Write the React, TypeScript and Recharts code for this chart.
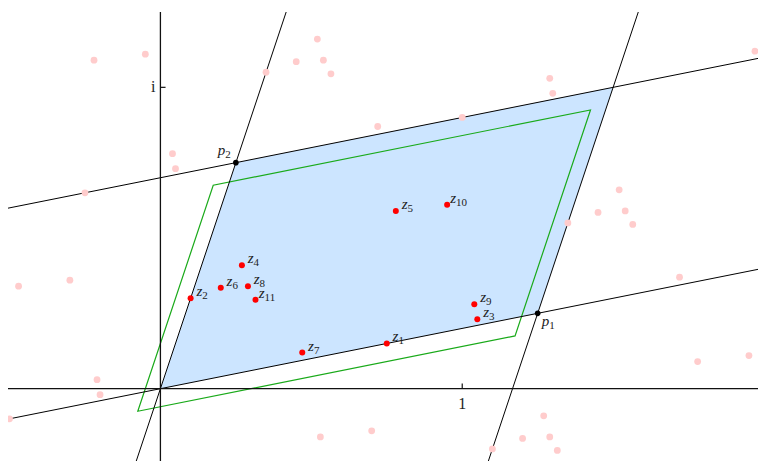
import React from 'react';
import { ScatterChart, Scatter, XAxis, YAxis } from 'recharts';

// Periods of the lattice
const periodNames = ['1', '2'];
const periodRe = [1.25, 0.25];
const periodIm = [0.25, 0.75];

// Points inside the fundamental parallelogram
const zNames = ['1', '2', '3', '4', '5', '6', '7', '8', '9', '10', '11'];
const zRe = [0.75, 0.1, 1.05, 0.27, 0.78, 0.2, 0.47, 0.29, 1.04, 0.95, 0.315];
const zIm = [0.15, 0.3, 0.23, 0.41, 0.59, 0.335, 0.12, 0.34, 0.28, 0.61, 0.295];

// Translated copies (pink)
const pinkRe = [
  1.35, 1.52, 1.45, 1.72, 1.54, 1.565,
  -0.5, -0.2, -0.47, -0.21, -0.3,
  1.0, 0.35, 1.3, 0.52, 0.45, 0.72, 0.54, 1.29, 0.565,
  0.53, 0.7,
  1.97,
  1.1, 1.27, 1.78, 1.2, 1.29, 1.95, 1.315,
  -0.25, 0.05, -0.22, 0.04, -0.05,
];
const pinkIm = [
  0.55, 0.66, 0.585, 0.37, 0.59, 0.545,
  -0.1, -0.02, 0.34, 0.03, 0.36,
  0.9, 1.05, 0.98, 1.16, 1.085, 0.87, 1.09, 1.03, 1.045,
  -0.16, -0.14,
  1.12,
  -0.2, -0.09, 0.09, -0.165, -0.16, 0.11, -0.205,
  0.65, 0.73, 1.09, 0.78, 1.11,
];

// Fundamental parallelogram 0, p1, p1+p2, p2
const cellRe = [0, 1.25, 1.5, 0.25];
const cellIm = [0, 0.25, 1.0, 0.75];

// Shifted parallelogram (green)
const shiftRe = [-0.075, 1.175, 1.425, 0.175];
const shiftIm = [-0.075, 0.175, 0.925, 0.675];

// Lattice lines (two end points each, extending past the view)
const latticeLines = [
  [[-1.5, -0.3], [3, 0.6]],
  [[-1.5, 0.4], [3, 1.3]],
  [[-0.2, -0.6], [0.6, 1.8]],
  [[1.0, -0.5], [1.6, 1.3]],
];

// Axes and ticks
const axisLines = [
  [[-1, 0], [3, 0]],
  [[0, -1], [0, 2]],
];
const tickMarks = [
  [[1, 0], [1, 0.017]],
  [[0, 1], [0.017, 1]],
];
const tickLabels = ['1', 'i'];
const tickRe = [1, 0];
const tickIm = [0, 1];

const X_DOMAIN: [number, number] = [-0.505, 1.98];
const Y_DOMAIN: [number, number] = [-0.24, 1.25];

const FONT = '"Liberation Serif", "DejaVu Serif", serif';

const zData = zNames.map((n, i) => ({ x: zRe[i], y: zIm[i], name: n }));
const pData = periodNames.map((n, i) => ({ x: periodRe[i], y: periodIm[i], name: n }));
const pinkData = pinkRe.map((x, i) => ({ x, y: pinkIm[i] }));
const cellData = cellRe.map((x, i) => ({ x, y: cellIm[i] }));
const shiftData = shiftRe.map((x, i) => ({ x, y: shiftIm[i] }));
const tickLabelData = tickLabels.map((t, i) => ({ x: tickRe[i], y: tickIm[i], name: t }));
const toPts = (seg: number[][]) => seg.map(([x, y]) => ({ x, y }));

const Empty = () => <g />;

const pathFrom = (pts: any[], close: boolean) =>
  pts.map((p: any, i: number) => `${i ? 'L' : 'M'}${p.x},${p.y}`).join(' ') + (close ? ' Z' : '');

const polyLine = (fill: string, stroke: string, width: number, close: boolean) => (props: any) => (
  <path
    d={pathFrom(props.points || [], close)}
    fill={fill}
    stroke={stroke}
    strokeWidth={width}
    strokeLinejoin="miter"
  />
);

const PinkDot = (props: any) => <circle cx={props.cx} cy={props.cy} r={3.4} fill="#ffcccc" />;

const ZDot = (props: any) => {
  const { cx, cy, payload } = props;
  return (
    <g>
      <circle cx={cx} cy={cy} r={3} fill="#ff0000" />
      <text x={cx + 11.5} y={cy - 2} textAnchor="middle" fontFamily={FONT} fontSize={15} fill="#222">
        <tspan fontStyle="italic">z</tspan>
        <tspan fontSize={11} dy={3}>{payload.name}</tspan>
      </text>
    </g>
  );
};

const PDot = (props: any) => {
  const { cx, cy, payload } = props;
  const first = payload.name === '1';
  return (
    <g>
      <circle cx={cx} cy={cy} r={2.8} fill="#000" />
      <text
        x={first ? cx + 10.5 : cx - 11.5}
        y={first ? cy + 13 : cy - 8}
        textAnchor="middle"
        fontFamily={FONT}
        fontSize={15}
        fill="#222"
      >
        <tspan fontStyle="italic">p</tspan>
        <tspan fontSize={11} dy={3}>{payload.name}</tspan>
      </text>
    </g>
  );
};

const TickLabel = (props: any) => {
  const { cx, cy, payload } = props;
  if (payload.name === 'i') {
    return (
      <text x={cx - 5} y={cy + 5} textAnchor="end" fontFamily={FONT} fontSize={16} fill="#222">
        i
      </text>
    );
  }
  return (
    <text x={cx} y={cy + 20} textAnchor="middle" fontFamily={FONT} fontSize={16} fill="#222">
      {payload.name}
    </text>
  );
};

export default function App() {
  return (
    <div style={{ position: 'absolute', left: 8, top: 8, width: 750, height: 453, overflow: 'hidden' }}>
      <ScatterChart width={750} height={453} margin={{ top: 4, right: 0, bottom: 0, left: 0 }}>
        <XAxis type="number" dataKey="x" domain={X_DOMAIN} allowDataOverflow hide />
        <YAxis type="number" dataKey="y" domain={Y_DOMAIN} allowDataOverflow hide />

        <Scatter
          data={cellData}
          shape={Empty}
          line={polyLine('#cce5ff', 'none', 0, true)}
          isAnimationActive={false}
        />
        <Scatter
          data={[...shiftData, shiftData[0]]}
          shape={Empty}
          line={polyLine('none', '#1aaa1a', 1.2, true)}
          isAnimationActive={false}
        />
        {latticeLines.map((seg, i) => (
          <Scatter
            key={`lat-${i}`}
            data={toPts(seg)}
            shape={Empty}
            line={polyLine('none', '#000', 1, false)}
            isAnimationActive={false}
          />
        ))}
        {axisLines.map((seg, i) => (
          <Scatter
            key={`ax-${i}`}
            data={toPts(seg)}
            shape={Empty}
            line={polyLine('none', '#111', 1.3, false)}
            isAnimationActive={false}
          />
        ))}
        {tickMarks.map((seg, i) => (
          <Scatter
            key={`tk-${i}`}
            data={toPts(seg)}
            shape={Empty}
            line={polyLine('none', '#111', 1.2, false)}
            isAnimationActive={false}
          />
        ))}
        <Scatter data={tickLabelData} shape={TickLabel} isAnimationActive={false} />
        <Scatter data={pinkData} shape={PinkDot} isAnimationActive={false} />
        <Scatter data={pData} shape={PDot} isAnimationActive={false} />
        <Scatter data={zData} shape={ZDot} isAnimationActive={false} />
      </ScatterChart>
    </div>
  );
}
